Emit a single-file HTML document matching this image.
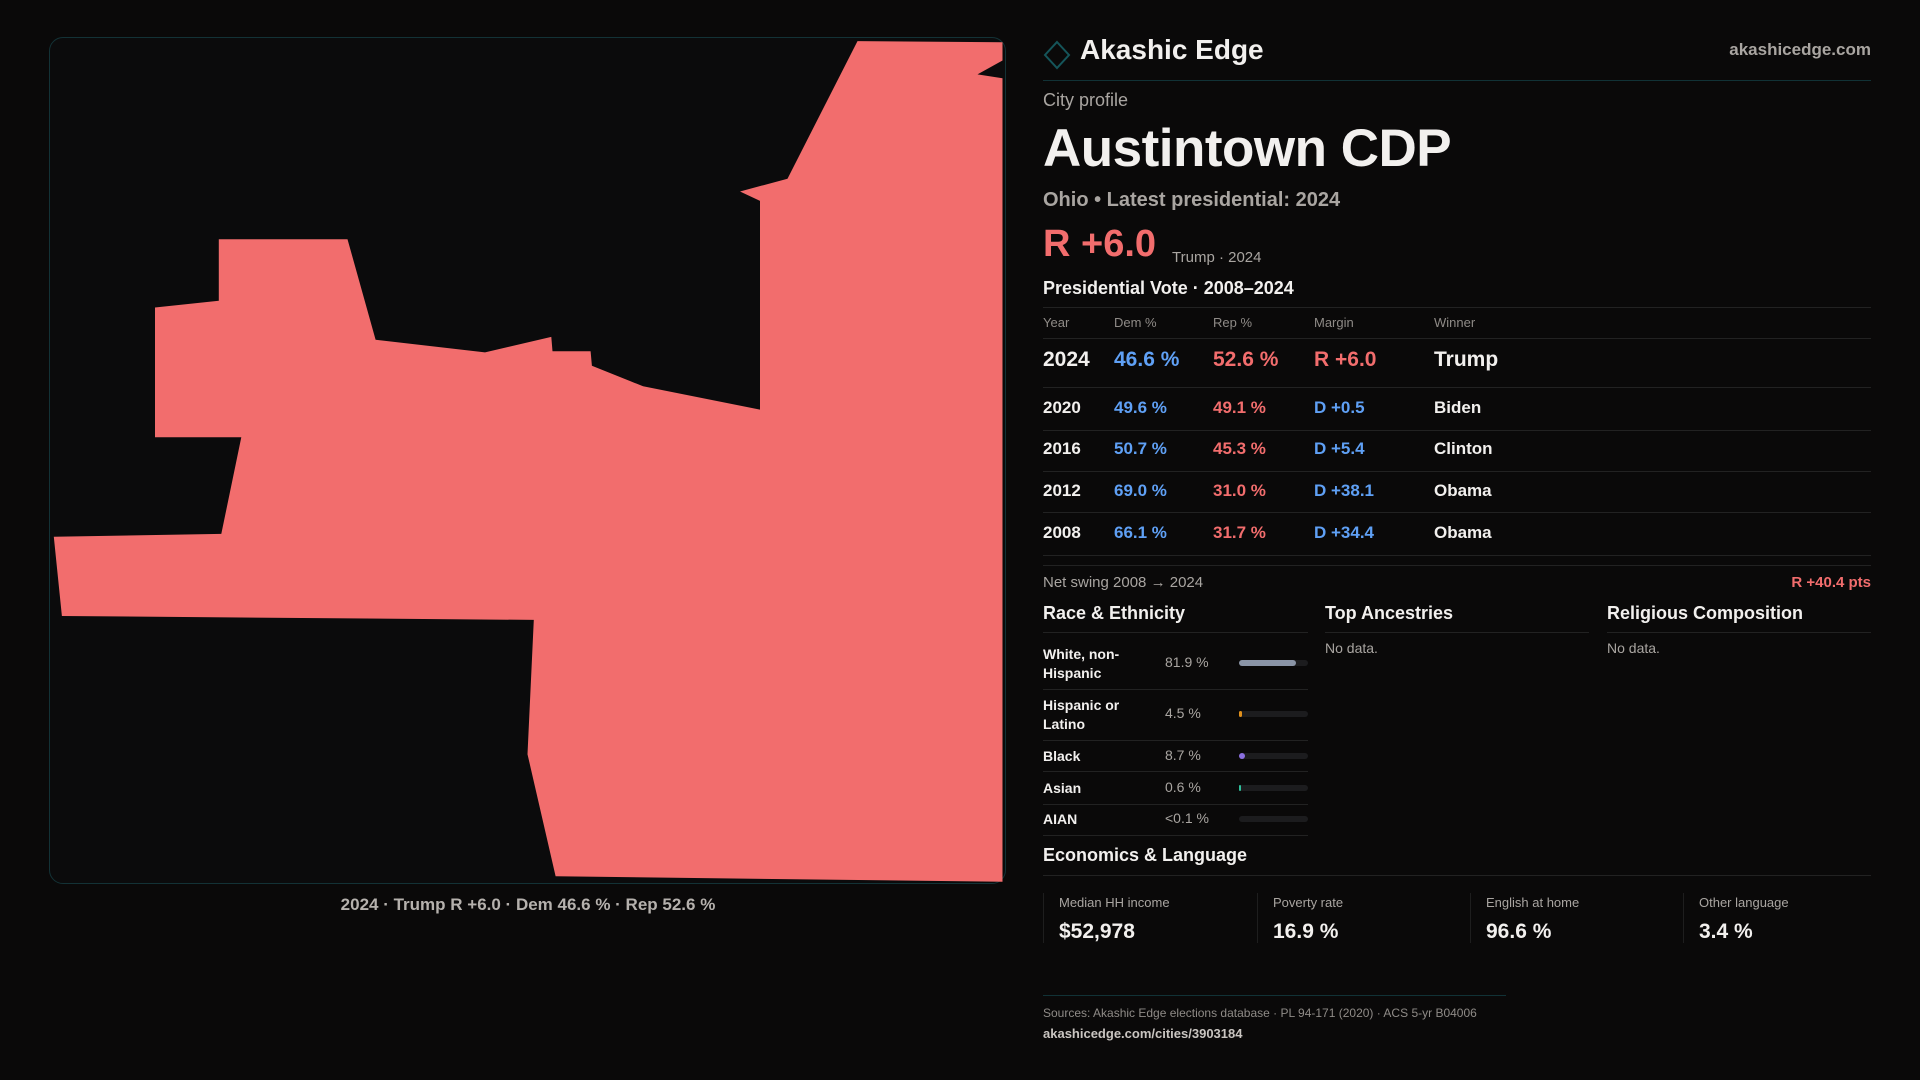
<!DOCTYPE html>
<html><head><meta charset="utf-8">
<style>
*{box-sizing:border-box;margin:0;padding:0}
body{width:1920px;height:1080px;background:#0a0909;font-family:"Liberation Sans",sans-serif;color:#f2f0ee;position:relative;overflow:hidden}
.a{position:absolute;white-space:nowrap}
.g{color:#a9a5a1}
.b{color:#5fa0f5}
.r{color:#f26d6d}
.line{position:absolute;height:1px;background:#222}
.th{font-size:13px;color:#8f8b87}
.row{font-size:17px;font-weight:bold}
.card{position:absolute;top:893px;height:50px;border-left:1px solid #1e1e1e;padding-left:15px}
.card .l{font-size:13px;color:#a9a5a1;margin-top:2px}
.card .v{font-size:21px;font-weight:bold;margin-top:10px}
</style></head><body>
<div class="a" style="left:49px;top:37px;width:957px;height:847px;border:1px solid #133236;border-radius:14px;background:#0b0b0c"></div>
<svg class="a" style="left:0;top:0" width="1920" height="1080" viewBox="0 0 1920 1080">
<polygon fill="#f26d6d" points="857.5,41.1 1002.5,42.2 1002.5,60.5 977.5,74.4 1002.5,78.3 1002.5,881.8 555.6,876.3 527.5,754.2 533.8,619.9 61.9,616 53.8,536.7 221.3,533.9 241.3,437.3 155,437.3 155,307.5 218.8,300.8 218.8,239.2 347.5,239.2 375.6,339.7 485,352.4 551.3,336.9 552.5,351.3 590.6,351.3 591.9,365.7 643.1,386.3 760,409.6 760,200.9 740,191.5 787.5,178.7"/>
</svg>
<div class="a g" style="left:528px;top:895px;transform:translateX(-50%);font-size:17px;font-weight:bold;color:#b5b1ad">2024 · Trump R +6.0 · Dem 46.6 % · Rep 52.6 %</div>

<svg class="a" style="left:1043px;top:40px" width="28" height="30"><polygon points="14,2 26,15 14,28 2,15" fill="none" stroke="#15555a" stroke-width="2"/></svg>
<div class="a" style="left:1080px;top:34px;font-size:28px;font-weight:bold">Akashic Edge</div>
<div class="a g" style="right:49px;top:40px;font-size:17px;font-weight:bold">akashicedge.com</div>
<div class="line" style="left:1043px;width:828px;top:80px;background:#113236"></div>
<div class="a g" style="left:1043px;top:90px;font-size:18px">City profile</div>
<div class="a" style="left:1043px;top:118px;font-size:53px;font-weight:bold;letter-spacing:-0.5px">Austintown CDP</div>
<div class="a g" style="left:1043px;top:189px;font-size:20px;font-weight:bold">Ohio • Latest presidential: 2024</div>
<div class="a r" style="left:1043px;top:223px;font-size:38px;font-weight:bold">R +6.0</div>
<div class="a g" style="left:1172px;top:249px;font-size:15px">Trump · 2024</div>
<div class="a" style="left:1043px;top:278px;font-size:18px;font-weight:bold">Presidential Vote · 2008–2024</div>
<div class="line" style="left:1043px;width:828px;top:307px"></div>
<div class="a th" style="left:1043px;top:315px">Year</div>
<div class="a th" style="left:1114px;top:315px">Dem %</div>
<div class="a th" style="left:1213px;top:315px">Rep %</div>
<div class="a th" style="left:1314px;top:315px">Margin</div>
<div class="a th" style="left:1434px;top:315px">Winner</div>
<div class="line" style="left:1043px;width:828px;top:338px"></div>
<div id="rows"></div>
<div class="line" style="left:1043px;width:828px;top:565px"></div>
<div class="a g" style="left:1043px;top:574px;font-size:15px">Net swing 2008 → 2024</div>
<div class="a r" style="right:49px;top:574px;font-size:15px;font-weight:bold">R +40.4 pts</div>

<div class="a" style="left:1043px;top:603px;font-size:18px;font-weight:bold">Race &amp; Ethnicity</div>
<div class="a" style="left:1325px;top:603px;font-size:18px;font-weight:bold">Top Ancestries</div>
<div class="a" style="left:1607px;top:603px;font-size:18px;font-weight:bold">Religious Composition</div>
<div class="line" style="left:1043px;width:265px;top:632px"></div>
<div class="line" style="left:1325px;width:264px;top:632px"></div>
<div class="line" style="left:1607px;width:264px;top:632px"></div>
<div class="a g" style="left:1325px;top:640px;font-size:14px">No data.</div>
<div class="a g" style="left:1607px;top:640px;font-size:14px">No data.</div>
<div id="race"></div>

<div class="a" style="left:1043px;top:845px;font-size:18px;font-weight:bold">Economics &amp; Language</div>
<div class="line" style="left:1043px;width:828px;top:875px"></div>
<div class="card" style="left:1043px;width:215px"><div class="l">Median HH income</div><div class="v">$52,978</div></div>
<div class="card" style="left:1257px;width:213px"><div class="l">Poverty rate</div><div class="v">16.9 %</div></div>
<div class="card" style="left:1470px;width:213px"><div class="l">English at home</div><div class="v">96.6 %</div></div>
<div class="card" style="left:1683px;width:188px"><div class="l">Other language</div><div class="v">3.4 %</div></div>
<div class="line" style="left:1043px;width:463px;top:995px;background:#113236"></div>
<div class="a g" style="left:1043px;top:1006px;font-size:12px;color:#8f8b87">Sources: Akashic Edge elections database · PL 94-171 (2020) · ACS 5-yr B04006</div>
<div class="a" style="left:1043px;top:1026px;font-size:13px;font-weight:bold;color:#c9c5c1">akashicedge.com/cities/3903184</div>
<script>
const years=["2024","2020","2016","2012","2008"];
const demPct=[46.6,49.6,50.7,69.0,66.1];
const repPct=[52.6,49.1,45.3,31.0,31.7];
const margins=[6.0,-0.5,-5.4,-38.1,-34.4];
const winners=["Trump","Biden","Clinton","Obama","Obama"];
const rowCenters=[361,408,449,491,533];
const lineYs=[387,430,471,512,555];
const rows=document.getElementById('rows');
years.forEach((y,i)=>{
  const m=margins[i];
  const big=i===0;
  const fs=big?21:17;
  const top=rowCenters[i]-fs*0.6;
  const cells=[[y,1043,''],[demPct[i].toFixed(1)+' %',1114,'b'],[repPct[i].toFixed(1)+' %',1213,'r'],[(m>0?'R +':'D +')+Math.abs(m).toFixed(1),1314,m>0?'r':'b'],[winners[i],1434,'']];
  cells.forEach((c,j)=>{
    const d=document.createElement('div');
    
    
    d.className='a row '+c[2];
    d.style.cssText='left:'+c[1]+'px;top:'+top+'px;font-size:'+fs+'px';
    d.textContent=c[0];
    rows.appendChild(d);
  });
  const l=document.createElement('div');
  
  
  l.className='line';l.style.cssText='left:1043px;width:828px;top:'+lineYs[i]+'px';
  rows.appendChild(l);
});
const raceLabels=["White, non-<br>Hispanic","Hispanic or<br>Latino","Black","Asian","AIAN"];
const raceValues=[81.9,4.5,8.7,0.6,0.05];
const raceText=["81.9 %","4.5 %","8.7 %","0.6 %","<0.1 %"];
const raceColors=["#8a94a6","#e0901c","#8b6fe0","#2fbf9a","#555"];
const raceCenters=[663,714,756,788,819];
const raceLines=[689,740,771,804,835];
const race=document.getElementById('race');
raceLabels.forEach((lab,i)=>{
  const c=raceCenters[i];
  const a=document.createElement('div');
  
  
  a.className='a';a.style.cssText='left:1043px;top:'+(c-(lab.includes('<br>')?18:9))+'px;font-size:14px;font-weight:bold;line-height:19px';
  a.innerHTML=lab;race.appendChild(a);
  const v=document.createElement('div');
  
  
  v.className='a g';v.style.cssText='left:1165px;top:'+(c-9)+'px;font-size:14px';
  v.textContent=raceText[i];race.appendChild(v);
  const t=document.createElement('div');
  
  
  t.className='a';t.style.cssText='left:1239px;top:'+(c-3)+'px;width:69px;height:6px;border-radius:3px;background:#1c1c1e';
  race.appendChild(t);
  const f=document.createElement('div');
  
  
  f.className='a';f.style.cssText='left:1239px;top:'+(c-3)+'px;height:6px;border-radius:3px;background:'+raceColors[i]+';width:'+Math.max(raceValues[i]>0.1?2:0,raceValues[i]/100*69)+'px';
  race.appendChild(f);
  const l=document.createElement('div');
  
  
  l.className='line';l.style.cssText='left:1043px;width:265px;top:'+raceLines[i]+'px';
  race.appendChild(l);
});
</script>
</body></html>
